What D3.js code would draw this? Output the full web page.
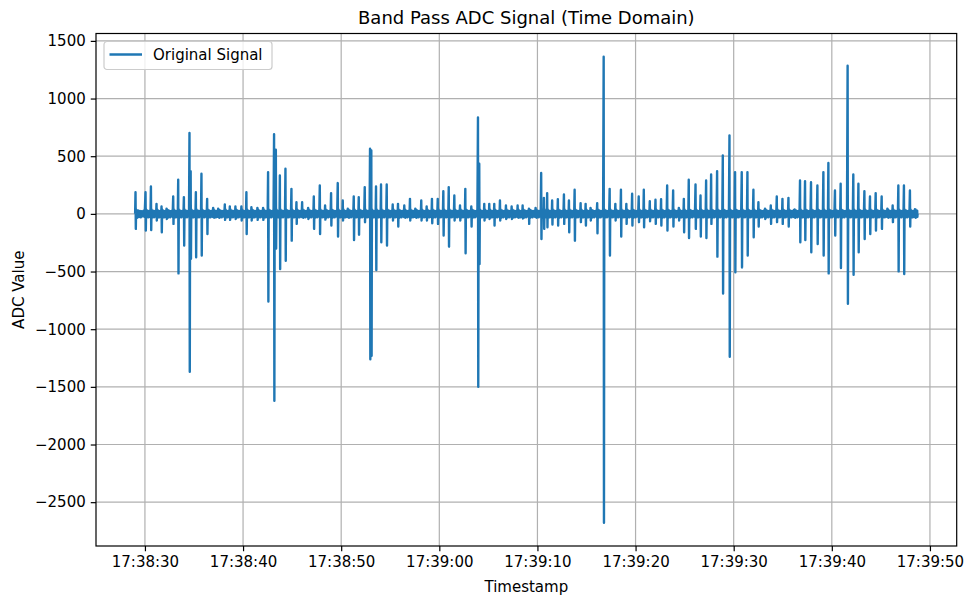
<!DOCTYPE html>
<html>
<head>
<meta charset="utf-8">
<script src="https://cdn.jsdelivr.net/npm/d3@7"></script>
<style>
  body { margin: 0; background: #fff; }
  svg { display: block; font-family: "DejaVu Sans", sans-serif; }
</style>
</head>
<body>
<svg id="chart" width="975" height="605"></svg>
<script>
// recording starts at 17:38:29, beat times are seconds after that
var startClock = [17, 38, 29];
var endSecond = 79.74;

var beatTimes = [0.04, 1.06, 1.61, 2.18, 2.69, 3.20, 3.88, 4.39, 4.97, 5.54, 5.66, 6.19, 6.76, 7.34, 7.95,
    8.46, 9.14, 9.65, 10.22, 10.83, 11.34, 11.85, 12.46, 13.04, 13.55, 14.16, 14.34, 14.75, 15.32, 15.93,
    16.44, 17.02, 17.63, 18.21, 18.82, 19.36, 19.97, 20.65, 21.16, 21.67, 22.28, 22.79, 23.40, 23.94, 24.07,
    24.55, 25.06, 25.64, 26.25, 26.79, 27.43, 28.01, 28.55, 29.16, 29.71, 30.25, 30.84, 31.41, 31.96, 32.53,
    33.11, 33.65, 34.26, 34.94, 35.07, 35.58, 36.09, 36.60, 37.18, 37.79, 38.37, 38.98, 39.49, 40.13, 40.81,
    41.38, 41.66, 41.99, 42.50, 43.08, 43.70, 44.21, 44.79, 45.40, 45.91, 46.41, 47.09, 47.75, 48.36, 48.94,
    49.51, 50.06, 50.65, 51.32, 51.84, 52.45, 53.03, 53.60, 54.22, 54.83, 55.41, 55.92, 56.42, 57.11, 57.62,
    58.19, 58.70, 59.31, 59.89, 60.57, 61.14, 61.82, 62.40, 63.01, 63.52, 64.19, 64.78, 65.39, 65.97, 66.58,
    67.15, 67.76, 68.27, 68.88, 69.53, 70.14, 70.65, 71.32, 71.90, 72.61, 73.19, 73.71, 74.32, 74.89, 75.47,
    76.08, 76.66, 77.20, 77.78, 78.35, 78.96, 79.47];

var beatPeaks = [188, 188, 238, 87, 64, 44, 150, 296, 145, 702, 370, 188, 348, 130, 52,
    44, 81, 64, 64, 64, 188, 58, 52, 52, 362, 690, 557, 333, 391, 217,
    101, 101, 52, 150, 246, 72, 180, 267, 116, 44, 150, 145, 232, 565, 550,
    238, 255, 255, 81, 87, 72, 130, 44, 116, 64, 130, 130, 197, 232, 160,
    72, 217, 64, 835, 435, 87, 87, 87, 116, 72, 64, 72, 72, 44, 52,
    354, 139, 180, 116, 128, 168, 116, 209, 93, 87, 52, 93, 1362, 217, 87,
    209, 87, 174, 150, 209, 110, 122, 128, 246, 203, 52, 130, 296, 255, 160,
    290, 342, 371, 507, 681, 362, 362, 362, 209, 101, 44, 72, 150, 130, 139,
    35, 290, 284, 275, 246, 362, 441, 203, 261, 1285, 342, 261, 197, 150, 180,
    150, 44, 72, 246, 246, 203, 40];

var beatTroughs = [-130, -145, -140, -58, -160, -44, -87, -516, -275, -1370, -390, -377, -362, -174, -29,
    -15, -52, -52, -44, -58, -174, -58, -52, -52, -760, -1620, -300, -478, -406, -232,
    -87, -29, -44, -130, -174, -50, -101, -197, -58, -30, -226, -180, -72, -1260, -1230,
    -487, -246, -275, -58, -110, -29, -58, -29, -58, -58, -81, -87, -188, -284, -58,
    -58, -342, -110, -1500, -435, -58, -44, -101, -58, -44, -44, -29, -40, -87, -29,
    -218, -130, -116, -93, -101, -87, -160, -232, -72, -101, -58, -168, -2678, -362, -58,
    -197, -87, -101, -72, -116, -64, -87, -101, -145, -110, -58, -160, -209, -130, -197,
    -209, -87, -371, -690, -1240, -507, -464, -362, -203, -110, -44, -87, -72, -87, -110,
    -29, -246, -226, -333, -261, -362, -516, -188, -470, -780, -528, -333, -218, -174, -145,
    -130, -29, -72, -499, -522, -110, -30];

// small ripple of the baseline between beats
var ripple = [38, -34, 30, -28, 26, -30, 24, -22, 28, -26];

var yTicks = [-2500, -2000, -1500, -1000, -500, 0, 500, 1000, 1500];

var W = 975, H = 605;
var margin = { left: 96, right: 18.3, top: 33.5, bottom: 59 };
var iw = W - margin.left - margin.right, ih = H - margin.top - margin.bottom;

function toDate(sec) {
    var d = new Date(2024, 0, 1, startClock[0], startClock[1], startClock[2]);
    return new Date(d.getTime() + sec * 1000);
}

// build the sample list from beats
var samples = [{ t: toDate(0), v: 0 }];
beatTimes.forEach(function (t, i) {
    var next = i < beatTimes.length - 1 ? beatTimes[i + 1] : endSecond;
    samples.push({ t: toDate(t), v: beatPeaks[i] });
    samples.push({ t: toDate(t + 0.03), v: beatTroughs[i] });
    var step = (next - t - 0.06) / ripple.length;
    ripple.forEach(function (r, k) {
        samples.push({ t: toDate(t + 0.06 + k * step), v: r });
    });
});
samples.push({ t: toDate(endSecond), v: 0 });

var svg = d3.select("#chart");

var tExt = d3.extent(samples, function (d) { return d.t; });
var tPad = (tExt[1] - tExt[0]) * 0.05;
var x = d3.scaleTime()
    .domain([new Date(+tExt[0] - tPad), new Date(+tExt[1] + tPad)])
    .range([0, iw]);

var vExt = d3.extent(samples, function (d) { return d.v; });
var vPad = (vExt[1] - vExt[0]) * 0.05;
var y = d3.scaleLinear()
    .domain([vExt[0] - vPad, vExt[1] + vPad])
    .range([ih, 0]);

var g = svg.append("g").attr("transform", "translate(" + margin.left + "," + margin.top + ")");

var xTicks = d3.timeSecond.every(10).range(x.domain()[0], x.domain()[1]);
if (xTicks[0] < x.domain()[0]) xTicks.shift();

// grid
g.append("g").selectAll("line").data(xTicks).enter().append("line")
    .attr("x1", function (d) { return x(d); }).attr("x2", function (d) { return x(d); })
    .attr("y1", 0).attr("y2", ih)
    .attr("stroke", "#b0b0b0").attr("stroke-width", 1.2);
g.append("g").selectAll("line").data(yTicks).enter().append("line")
    .attr("y1", function (d) { return y(d); }).attr("y2", function (d) { return y(d); })
    .attr("x1", 0).attr("x2", iw)
    .attr("stroke", "#b0b0b0").attr("stroke-width", 1.2);

svg.append("defs").append("clipPath").attr("id", "clip")
    .append("rect").attr("width", iw).attr("height", ih);

var line = d3.line()
    .x(function (d) { return x(d.t); })
    .y(function (d) { return y(d.v); });

g.append("path")
    .datum(samples)
    .attr("clip-path", "url(#clip)")
    .attr("fill", "none")
    .attr("stroke", "#1f77b4")
    .attr("stroke-width", 2.4)
    .attr("stroke-linejoin", "round")
    .attr("d", line);

// axes
var fmt = d3.timeFormat("%H:%M:%S");
var xAxis = g.append("g").attr("transform", "translate(0," + ih + ")")
    .call(d3.axisBottom(x).tickValues(xTicks).tickFormat(fmt).tickSize(5.25).tickPadding(5));
var yAxis = g.append("g")
    .call(d3.axisLeft(y).tickValues(yTicks).tickFormat(function (d) { return d < 0 ? "\u2212" + Math.abs(d) : d; })
        .tickSize(5.25).tickPadding(5));

[xAxis, yAxis].forEach(function (a) {
    a.select(".domain").remove();
    a.selectAll("line").attr("stroke", "#000").attr("stroke-width", 1.2);
    a.selectAll("text").attr("font-size", 15).attr("fill", "#000")
        .attr("font-family", "DejaVu Sans, sans-serif");
});

g.append("rect").attr("width", iw).attr("height", ih)
    .attr("fill", "none").attr("stroke", "#000").attr("stroke-width", 1.2);

// labels
svg.append("text").attr("x", margin.left + iw / 2).attr("y", 24)
    .attr("text-anchor", "middle").attr("font-size", 18).text("Band Pass ADC Signal (Time Domain)");
svg.append("text").attr("x", margin.left + iw / 2).attr("y", 592)
    .attr("text-anchor", "middle").attr("font-size", 15).text("Timestamp");
svg.append("text").attr("transform", "translate(24," + (margin.top + ih / 2) + ") rotate(-90)")
    .attr("text-anchor", "middle").attr("font-size", 15).text("ADC Value");

// legend
var lg = g.append("g").attr("transform", "translate(8,8)");
lg.append("rect").attr("width", 168).attr("height", 28).attr("rx", 3)
    .attr("fill", "#fff").attr("fill-opacity", 0.8)
    .attr("stroke", "#cccccc").attr("stroke-width", 1.2);
lg.append("line").attr("x1", 5.5).attr("x2", 38).attr("y1", 13).attr("y2", 13)
    .attr("stroke", "#1f77b4").attr("stroke-width", 2.4);
lg.append("text").attr("x", 49).attr("y", 18.5).attr("font-size", 15).text("Original Signal");
</script>
</body>
</html>
